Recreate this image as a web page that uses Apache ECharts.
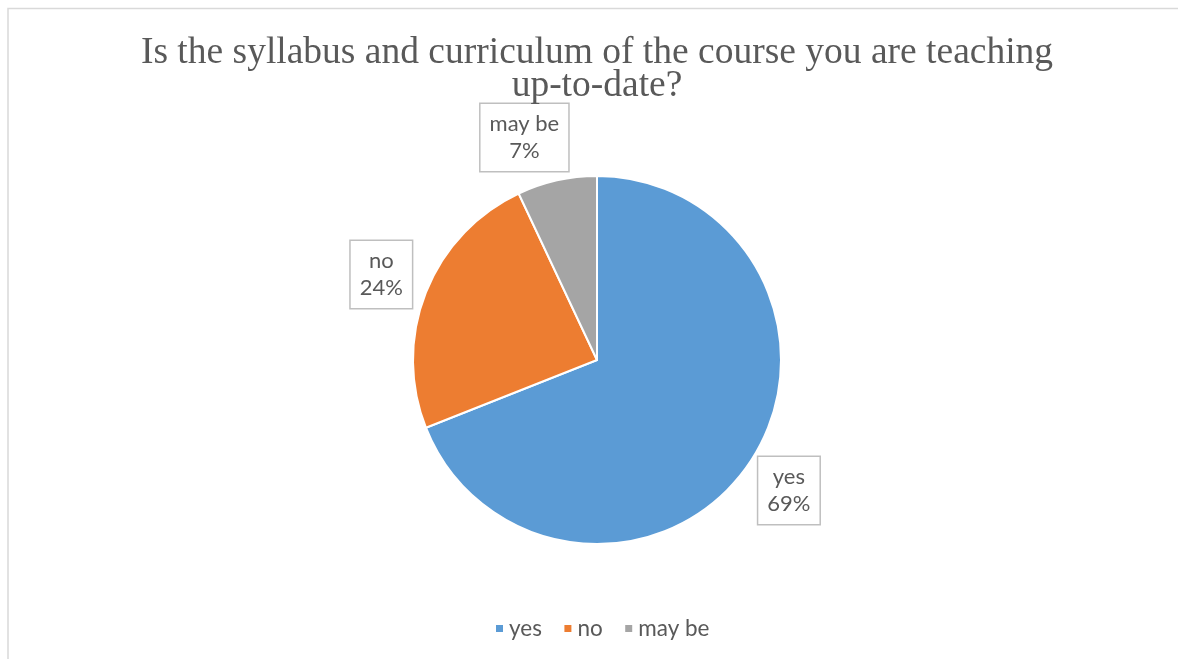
<!DOCTYPE html>
<html>
<head>
<meta charset="utf-8">
<script src="https://cdn.jsdelivr.net/npm/echarts@6/dist/echarts.min.js"></script>
<style>
html,body{margin:0;padding:0;background:#fff;}
#chart{width:1178px;height:659px;}
</style>
</head>
<body>
<div id="chart"></div>
<script>
var titleText = 'Is the syllabus and curriculum of the course you are teaching\nup-to-date?';
var categories = ['yes', 'no', 'may be'];
var values = [69, 24, 7];
var colors = ['#5B9BD5', '#ED7D31', '#A5A5A5'];

// label nudges (style only, Excel "best fit" placement)
var labelNudge = { 'may be': [-22, 4] };

var chart = echarts.init(document.getElementById('chart'));
var pieData = categories.map(function (c, i) { return { name: c, value: values[i] }; });
var labelData = categories.map(function (c, i) {
  var d = { name: c, value: values[i] };
  if (labelNudge[c]) d.label = { offset: labelNudge[c] };
  return d;
});

chart.setOption({
  animation: false,
  color: colors,
  graphic: [{
    type: 'rect',
    shape: { x: 8, y: 8.5, width: 1300, height: 800 },
    style: { fill: 'none', stroke: '#d9d9d9', lineWidth: 1.5 },
    silent: true
  }],
  title: {
    text: titleText,
    left: 592,
    textAlign: 'center',
    top: 32,
    textStyle: {
      fontFamily: 'Liberation Serif',
      fontSize: 37.5,
      lineHeight: 33,
      fontWeight: 'normal',
      color: '#595959'
    }
  },
  legend: {
    data: categories,
    bottom: 14,
    left: 489,
    icon: 'rect',
    itemWidth: 9,
    itemHeight: 9,
    itemGap: 20.5,
    textStyle: { fontFamily: 'Lato', fontSize: 22.5, color: '#595959' }
  },
  series: [{
    type: 'pie',
    center: [597, 360],
    radius: [0, 184],
    startAngle: 90,
    clockwise: true,
    percentPrecision: 0,
    itemStyle: { borderColor: '#fff', borderWidth: 2 },
    label: { show: false },
    labelLine: { show: false },
    emphasis: { disabled: true },
    data: pieData
  }, {
    type: 'pie',
    center: [597, 360],
    radius: [220, 238],
    startAngle: 90,
    clockwise: true,
    percentPrecision: 0,
    silent: true,
    itemStyle: { color: 'transparent' },
    labelLine: { show: false },
    emphasis: { disabled: true },
    label: {
      show: true,
      position: 'inside',
      formatter: '{b}\n{d}%',
      fontFamily: 'Lato',
      fontSize: 22,
      lineHeight: 27,
      color: '#595959',
      backgroundColor: '#fff',
      borderColor: '#bfbfbf',
      borderWidth: 1.5,
      padding: [7, 9, 6, 9],
      align: 'center'
    },
    data: labelData
  }]
});
</script>
</body>
</html>
